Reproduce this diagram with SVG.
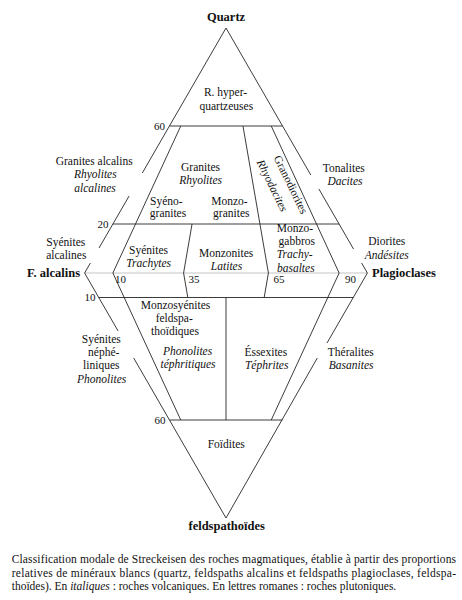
<svg xmlns="http://www.w3.org/2000/svg" width="462" height="600" viewBox="0 0 462 600">
<style>
.ln{stroke:#262626;stroke-width:0.9;fill:none}
.mid{stroke:#bdbdbd;stroke-width:0.9;fill:none}
text{font-family:"Liberation Serif","Times New Roman",serif;font-size:11.5px;fill:#111;text-anchor:middle}
.i{font-style:italic}
.b{font-weight:bold;font-size:12.5px}
.n{font-size:11px}
.e{text-anchor:end}
.s{text-anchor:start}
</style>
<rect width="462" height="600" fill="#fff"/>
<g id="connectors">
<line class="mid" x1="84.6" y1="273" x2="367.4" y2="273"/>
<!-- outer upper left -->
<polyline class="ln" points="226,28 142.3,173"/>
<polyline class="ln" points="129.1,196 99.0,248"/>
<!-- A vertex -->
<polyline class="ln" points="90.4,263 84.6,273 118.1,331"/>
<polyline class="ln" points="133.7,358 226,518 317.3,358"/>
<!-- outer upper right -->
<polyline class="ln" points="226,28 310.8,175"/>
<polyline class="ln" points="318.9,189 353.5,249"/>
<polyline class="ln" points="361.6,263 367.4,273 327.0,343"/>
<!-- horizontals -->
<line class="ln" x1="169.5" y1="126" x2="282.5" y2="126"/>
<line class="ln" x1="112.9" y1="224" x2="339.1" y2="224"/>
<line class="ln" x1="98.7" y1="297.5" x2="353.3" y2="297.5"/>
<line class="ln" x1="169.5" y1="420" x2="282.5" y2="420"/>
<!-- ratio lines -->
<polyline class="ln" points="180.75,126 112.88,273 180.75,420"/>
<polyline class="ln" points="192.06,224 183.58,273 187.82,297.5"/>
<polyline class="ln" points="242.97,126 268.42,273 264.18,297.5"/>
<polyline class="ln" points="271.25,126 339.12,273 271.25,420"/>
<line class="ln" x1="226" y1="297.5" x2="226" y2="420"/>
</g>
<g id="vertices">
<text class="b" x="226" y="20.5">Quartz</text>
<text class="b e" x="80" y="276.5">F. alcalins</text>
<text class="b s" x="372" y="276.5">Plagioclases</text>
<text class="b" x="226.7" y="530">feldspathoïdes</text>
</g>
<g id="numbers">
<text class="n e" x="165" y="129.5">60</text>
<text class="n e" x="108.5" y="227.5">20</text>
<text class="n e" x="95.5" y="301">10</text>
<text class="n e" x="165.5" y="424">60</text>
<text class="n s" x="115" y="283">10</text>
<text class="n s" x="188.5" y="283">35</text>
<text class="n s" x="273.5" y="283">65</text>
<text class="n s" x="345" y="283">90</text>
</g>
<g id="hyperquartz"><text x="225.5" y="96">R. hyper-</text><text x="226.3" y="109.5">quartzeuses</text></g>
<g id="granites-alcalins"><text x="94.2" y="165.3">Granites alcalins</text><text class="i" x="95.3" y="178.3">Rhyolites</text><text class="i" x="95" y="191.5">alcalines</text></g>
<g id="granites"><text x="200.5" y="170.7">Granites</text><text class="i" x="200.7" y="183.5">Rhyolites</text></g>
<g id="syenogranites"><text x="166.3" y="205">Syéno-</text><text x="168" y="217.3">granites</text></g>
<g id="monzogranites"><text x="229.5" y="205">Monzo-</text><text x="231.3" y="217.3">granites</text></g>
<g id="granodiorites"><text transform="translate(291,184.5) rotate(64)" y="4">Granodiorites</text><text class="i" transform="translate(272.5,185.5) rotate(64)" y="4">Rhyodacites</text></g>
<g id="tonalites"><text x="343.8" y="171.7">Tonalites</text><text class="i" x="345" y="184.7">Dacites</text></g>
<g id="syenites-alcalines"><text x="65.8" y="245.5">Syénites</text><text x="66.3" y="258.5">alcalines</text></g>
<g id="syenites"><text x="148.5" y="253.5">Syénites</text><text class="i" x="148.7" y="266.5">Trachytes</text></g>
<g id="monzonites"><text x="226.2" y="256.5">Monzonites</text><text class="i" x="226.5" y="269.5">Latites</text></g>
<g id="monzogabbros"><text x="295" y="231.7">Monzo-</text><text x="296.8" y="245">gabbros</text><text class="i" x="294.7" y="258.3">Trachy-</text><text class="i" x="295.8" y="271.5">basaltes</text></g>
<g id="diorites"><text x="386.7" y="245">Diorites</text><text class="i" x="386.7" y="258.7">Andésites</text></g>
<g id="monzosyenites"><text x="175.5" y="308.5">Monzosyénites</text><text x="174.2" y="322">feldspa-</text><text x="175" y="335.3">thoïdiques</text><text class="i" x="187.6" y="355">Phonolites</text><text class="i" x="188" y="368">téphritiques</text></g>
<g id="syenites-nepheliniques"><text x="101.3" y="342.7">Syénites</text><text x="103.7" y="356">néphé-</text><text x="101.3" y="369.3">liniques</text><text class="i" x="101.7" y="382.7">Phonolites</text></g>
<g id="essexites"><text x="265.8" y="355.7">Éssexites</text><text class="i" x="266.7" y="369">Téphrites</text></g>
<g id="theralites"><text x="350.8" y="355.7">Théralites</text><text class="i" x="351.2" y="369.3">Basanites</text></g>
<g id="foidites"><text x="226.2" y="448.3">Foïdites</text></g>
<g id="caption">
<text class="s" x="11.7" y="562.5" textLength="444.3" lengthAdjust="spacing">Classification modale de Streckeisen des roches magmatiques, établie à partir des proportions</text>
<text class="s" x="11.7" y="576.5" textLength="444.3" lengthAdjust="spacing">relatives de minéraux blancs (quartz, feldspaths alcalins et feldspaths plagioclases, feldspa-</text>
<text class="s" x="11.7" y="590">thoïdes). En <tspan class="i">italiques</tspan> : roches volcaniques. En lettres romanes : roches plutoniques.</text>
</g>
</svg>
